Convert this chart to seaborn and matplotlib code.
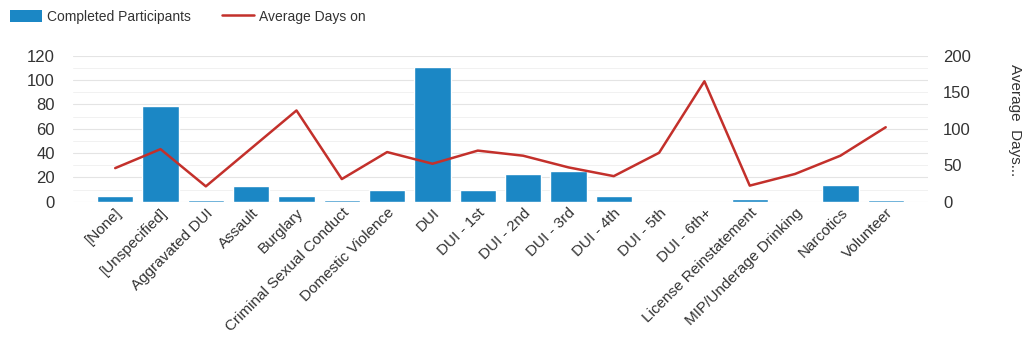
import matplotlib
matplotlib.use("Agg")
import matplotlib.pyplot as plt
import seaborn as sns
import numpy as np
import pandas as pd
from matplotlib.patches import Patch
from matplotlib.lines import Line2D

categories = ["[None]", "[Unspecified]", "Aggravated DUI", "Assault", "Burglary",
              "Criminal Sexual Conduct", "Domestic Violence", "DUI", "DUI - 1st",
              "DUI - 2nd", "DUI - 3rd", "DUI - 4th", "DUI - 5th", "DUI - 6th+",
              "License Reinstatement", "MIP/Underage Drinking", "Narcotics", "Volunteer"]
completed = [5, 79, 1, 13, 5, 1, 10, 111, 10, 23, 25, 5, 0, 0, 2, 0, 14, 1]
avg_days = [46, 72, 21, 73, 125, 31, 68, 52, 70, 63, 47, 35, 67, 165, 22, 38, 63, 102]
left_ticks = [0, 20, 40, 60, 80, 100, 120]
right_ticks = [0, 50, 100, 150, 200]

BAR = "#1b87c5"
LINE = "#c3302b"
TXT = "#333333"

sns.set_theme(style="white")
plt.rcParams["font.family"] = ["Liberation Sans", "DejaVu Sans"]

fig = plt.figure(figsize=(10.23, 3.44), dpi=100)
ax = fig.add_axes([0.0714, 0.4137, 0.907 - 0.0714, 0.838 - 0.4137])

df = pd.DataFrame({"cat": categories, "completed": completed, "avg": avg_days})
sns.barplot(data=df, x="cat", y="completed", color=BAR, saturation=1, width=0.8, ax=ax)
ax.set_ylim(0, 120)
ax.set_yticks(left_ticks)
ax.set_yticks(np.arange(0, 121, 10), minor=True)
ax.grid(axis="y", which="major", color="#e4e4e4", lw=0.8)
ax.grid(axis="y", which="minor", color="#efefef", lw=0.6)
ax.set_axisbelow(True)
ax.set_xlim(-0.93, 17.93)
for s in ax.spines.values():
    s.set_visible(False)
ax.tick_params(axis="y", which="both", length=0)
ax.tick_params(axis="y", pad=13, labelsize=12, labelcolor=TXT)
ax.tick_params(axis="x", length=0, pad=3)
ax.set_xticks(range(len(categories)))
ax.set_xticklabels(categories, rotation=45, ha="right", rotation_mode="anchor",
                   fontsize=11, color=TXT)
ax.set_xlabel("")
ax.set_ylabel("")

ax2 = ax.twinx()
sns.lineplot(x=np.arange(len(categories)), y=avg_days, color=LINE, lw=1.8, ax=ax2)
ax2.set_ylim(0, 200)
ax2.set_yticks(right_ticks)
ax2.grid(False)
for s in ax2.spines.values():
    s.set_visible(False)
ax2.tick_params(axis="y", which="both", length=0)
ax2.tick_params(axis="y", pad=11, labelsize=12, labelcolor=TXT)
ax2.set_xlim(-0.93, 17.93)

fig.text(1015 / 1023, 1 - 64 / 344, "Average  Days...", rotation=270,
         ha="center", va="top", fontsize=11, color=TXT)

handles = [Patch(facecolor=BAR, edgecolor="none"),
           Line2D([], [], color=LINE, lw=1.8)]
fig.legend(handles, ["Completed Participants", "Average Days on"],
           loc="upper left", bbox_to_anchor=(0.0, 1.0), ncol=2, frameon=False,
           fontsize=10, handlelength=2.3, handleheight=1.0, handletextpad=0.4,
           columnspacing=2.2, labelcolor=TXT, borderaxespad=0.3)

fig.savefig("out.png", dpi=100)
